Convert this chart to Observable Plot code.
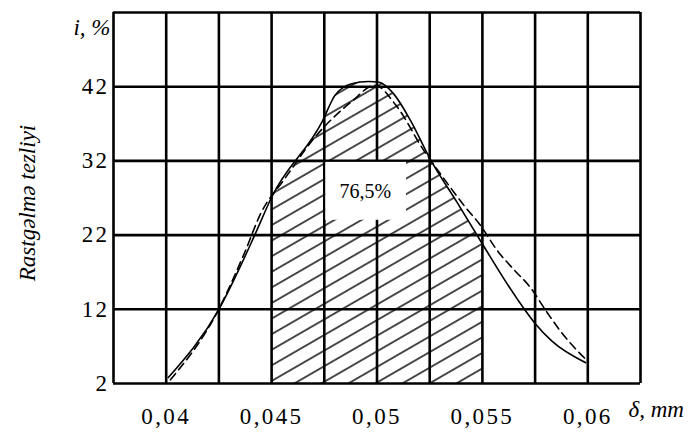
<!DOCTYPE html>
<html>
<head>
<meta charset="utf-8">
<script src="https://cdn.jsdelivr.net/npm/d3@7"></script>
<script src="https://cdn.jsdelivr.net/npm/@observablehq/plot@0.6"></script>
<style>
  html, body { margin: 0; padding: 0; background: #fff; }
  #chart svg { display: block; }
  #chart g[aria-label="x-axis tick label"] text,
  #chart g[aria-label="y-axis tick label"] text { letter-spacing: 2.4px; }
  #chart g[aria-label="axis unit"] text { letter-spacing: 2px; }
  #chart g[aria-label="axis title"] text { letter-spacing: 1.7px; }
</style>
</head>
<body>
<div id="chart"></div>
<script>
// Grid and tick positions (δ in mm, i in %)
const gridX = [0.0375, 0.04, 0.0425, 0.045, 0.0475, 0.05, 0.0525, 0.055, 0.0575, 0.06, 0.0625];
const gridY = [2, 12, 22, 32, 42, 52];
const tickX = [0.04, 0.045, 0.05, 0.055, 0.06];
const tickY = [2, 12, 22, 32, 42];

// Observed frequency curve (solid)
const solidX = [0.0401, 0.0425, 0.0442, 0.045, 0.0474, 0.048, 0.0488, 0.0496, 0.0501, 0.0508, 0.0516, 0.05255, 0.0538, 0.055, 0.05665, 0.0575, 0.0583, 0.0599];
const solidI = [2.8, 12, 22, 27.1, 37.3, 40.8, 42.4, 42.7, 42.6, 41.0, 37.4, 32.1, 26.4, 20.8, 13.4, 10.1, 7.7, 4.8];

// Theoretical distribution curve (dashed)
const dashX = [0.0402, 0.0424, 0.0437, 0.0445, 0.0456, 0.047, 0.0488, 0.0499, 0.0509, 0.0522, 0.05315, 0.05421, 0.05486, 0.05571, 0.05651, 0.05726, 0.05804, 0.0588, 0.05951, 0.05996];
const dashI = [2.5, 11.5, 19.5, 25, 29.5, 35, 40, 42.2, 39.5, 33.5, 29.7, 25.7, 23.5, 19.9, 17.3, 15.0, 11.7, 8.7, 6.4, 5.1];

// Shaded tolerance band and its share
const bandFrom = 0.045, bandTo = 0.055;
const bandShare = "76,5%";
const boxX = [0.0475, 0.0514];
const boxY = [24, 32];
const shareAt = {x: 0.04945, y: 27.9};

const yTitle = "Rastgəlmə tezliyi";
const yUnit = "i, %";
const xUnit = "δ, mm";

const solid = solidX.map((x, k) => ({x, i: solidI[k]}));
const dashed = dashX.map((x, k) => ({x, i: dashI[k]}));
const band = solid.filter(d => d.x >= bandFrom && d.x <= bandTo);
const comma = d => String(d).replace(".", ",");

const serif = "Liberation Serif";
const fs = 23;

const svg = Plot.plot({
  width: 697,
  height: 435,
  marginLeft: 113,
  marginRight: 57,
  marginTop: 12,
  marginBottom: 52,
  style: "font-family: 'Liberation Serif', serif; font-size: 23px; color: #000; background: #fff;",
  x: {domain: [gridX[0], gridX[gridX.length - 1]]},
  y: {domain: [gridY[0], gridY[gridY.length - 1]]},
  marks: [
    Plot.areaY(band, {x: "x", y1: gridY[0], y2: "i", curve: "monotone-x", fill: "url(#hatch)"}),
    Plot.ruleX(gridX, {stroke: "#000", strokeWidth: 2.6}),
    Plot.ruleY(gridY, {stroke: "#000", strokeWidth: 2.6}),
    Plot.rect([0], {x1: boxX[0], x2: boxX[1], y1: boxY[0], y2: boxY[1], fill: "#fff", insetLeft: 1.5, insetTop: 1.5}),
    Plot.text([bandShare], {x: shareAt.x, y: shareAt.y, text: d => d, fontFamily: serif, fontSize: 20}),
    Plot.line(dashed, {x: "x", y: "i", curve: "monotone-x", stroke: "#000", strokeWidth: 1.6, strokeDasharray: "8,5"}),
    Plot.line(solid, {x: "x", y: "i", curve: "monotone-x", stroke: "#000", strokeWidth: 1.6}),
    Plot.axisX({ticks: tickX, tickFormat: comma, tickSize: 0, tickPadding: 24, label: null, fontFamily: serif, fontSize: fs}),
    Plot.axisY({ticks: tickY, tickSize: 0, tickPadding: 4, label: null, fontFamily: serif, fontSize: fs}),
    Plot.text([yUnit], {ariaLabel: "axis unit", frameAnchor: "top-left", text: d => d, textAnchor: "end", dx: -3, dy: 6, fontStyle: "italic", fontFamily: serif, fontSize: fs}),
    Plot.text([xUnit], {ariaLabel: "axis unit", frameAnchor: "bottom-right", text: d => d, textAnchor: "start", dx: -12, dy: 33, fontStyle: "italic", fontFamily: serif, fontSize: fs}),
    Plot.text([yTitle], {ariaLabel: "axis title", frameAnchor: "left", text: d => d, textAnchor: "middle", rotate: -90, dx: -86, dy: 5, fontStyle: "italic", fontFamily: serif, fontSize: fs})
  ]
});

// Diagonal hatch pattern for the shaded band
const ns = "http://www.w3.org/2000/svg";
const defs = document.createElementNS(ns, "defs");
const pat = document.createElementNS(ns, "pattern");
pat.setAttribute("id", "hatch");
pat.setAttribute("patternUnits", "userSpaceOnUse");
pat.setAttribute("width", "14");
pat.setAttribute("height", "13.5");
pat.setAttribute("patternTransform", "rotate(-30)");
const ln = document.createElementNS(ns, "line");
ln.setAttribute("x1", "0"); ln.setAttribute("y1", "6.75");
ln.setAttribute("x2", "14"); ln.setAttribute("y2", "6.75");
ln.setAttribute("stroke", "#000");
ln.setAttribute("stroke-width", "1.4");
pat.appendChild(ln);
defs.appendChild(pat);
svg.insertBefore(defs, svg.firstChild);

document.getElementById("chart").appendChild(svg);
</script>
</body>
</html>
